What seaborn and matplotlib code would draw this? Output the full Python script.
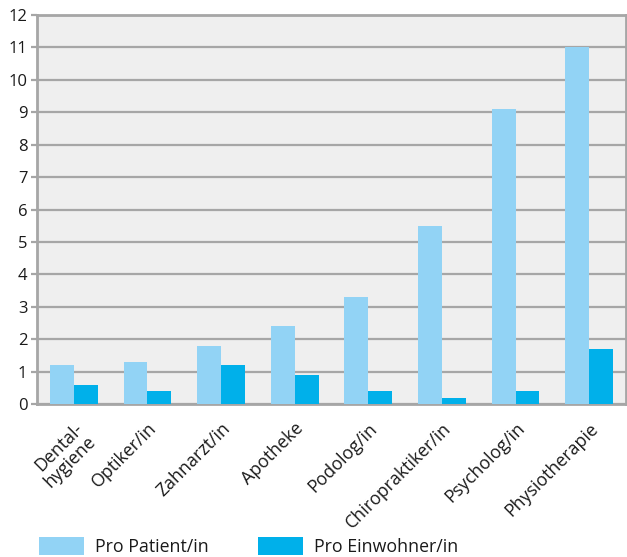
import matplotlib
matplotlib.use("Agg")
import matplotlib.pyplot as plt
import seaborn as sns
import pandas as pd
from matplotlib.patches import Patch

categories = ["Dental-\nhygiene", "Optiker/in", "Zahnarzt/in", "Apotheke",
              "Podolog/in", "Chiropraktiker/in", "Psycholog/in", "Physiotherapie"]
pro_patient = [1.2, 1.3, 1.8, 2.4, 3.3, 5.5, 9.1, 11.0]
pro_einwohner = [0.6, 0.4, 1.2, 0.9, 0.4, 0.2, 0.4, 1.7]
series_names = ["Pro Patient/in", "Pro Einwohner/in"]
y_ticks = list(range(0, 13))

colors = ["#92d3f5", "#00b0ea"]
grid_col = "#a6a6a6"
text_col = "#1a1a1a"

df = pd.DataFrame({
    "Kategorie": categories * 2,
    "Wert": pro_patient + pro_einwohner,
    "Serie": [series_names[0]] * len(categories) + [series_names[1]] * len(categories),
})

sns.set_style("white")
plt.rcParams["font.family"] = ["Open Sans", "DejaVu Sans"]

fig = plt.figure(figsize=(6.27, 5.57), dpi=100)
ax = fig.add_axes([37 / 627, (557 - 404) / 557, (626 - 37) / 627, (404 - 15) / 557])
ax.set_facecolor("#efefef")

sns.barplot(data=df, x="Kategorie", y="Wert", hue="Serie", palette=colors,
            width=0.65, saturation=1, linewidth=0, ax=ax, legend=False, zorder=3)

ax.set_ylim(0, 12)
ax.set_xlim(-0.5, len(categories) - 0.5)
ax.set_yticks(y_ticks)
ax.yaxis.grid(True, color=grid_col, linewidth=1.6, zorder=0)
ax.set_axisbelow(True)
ax.set_xlabel("")
ax.set_ylabel("")

for side in ["left", "right", "top", "bottom"]:
    ax.spines[side].set_visible(True)
    ax.spines[side].set_color(grid_col)
    ax.spines[side].set_linewidth(2)

ax.tick_params(axis="y", length=4, width=1.6, color=grid_col, labelsize=12,
               labelcolor=text_col, pad=3, left=True)
ax.tick_params(axis="x", length=0, labelsize=12.8, labelcolor=text_col, pad=11)
ax.set_xticks(range(len(categories)))
ax.set_xticklabels(categories, rotation=45, ha="right", rotation_mode="anchor",
                   linespacing=1.0)

handles = [Patch(facecolor=c, edgecolor="none") for c in colors]
fig.legend(handles, series_names, loc="lower left", bbox_to_anchor=(38 / 627, 0.0),
           ncol=2, frameon=False, fontsize=12.8, handlelength=2.53, handleheight=1.24,
           handletextpad=0.62, columnspacing=2.8, borderpad=0.05, borderaxespad=0,
           labelcolor=text_col)

fig.savefig("out.png", dpi=100)
